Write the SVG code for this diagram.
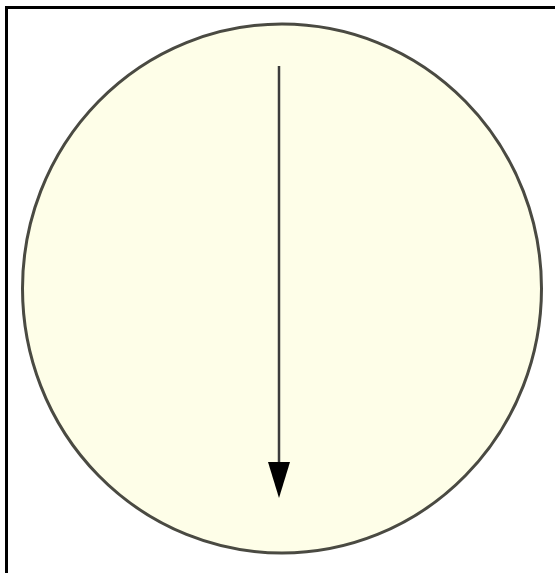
<svg xmlns="http://www.w3.org/2000/svg" width="555" height="573" viewBox="0 0 555 573">
<style>
.frame{fill:none;stroke:#000;stroke-width:3}
.ball{fill:#fefee8;stroke:#4a4a42;stroke-width:3}
.conn{stroke:#3c3c3c;stroke-width:2.5;fill:none}
.head{fill:#000}
</style>
<rect class="frame" x="6.5" y="7.5" width="560" height="580"/>
<g id="circle">
<ellipse class="ball" cx="282" cy="288.5" rx="259.5" ry="264.5"/>
</g>
<g id="connectors">
<line class="conn" x1="279" y1="66" x2="279" y2="466"/>
<path class="head" d="M268,462 L290,462 L279,498 Z"/>
</g>
</svg>
